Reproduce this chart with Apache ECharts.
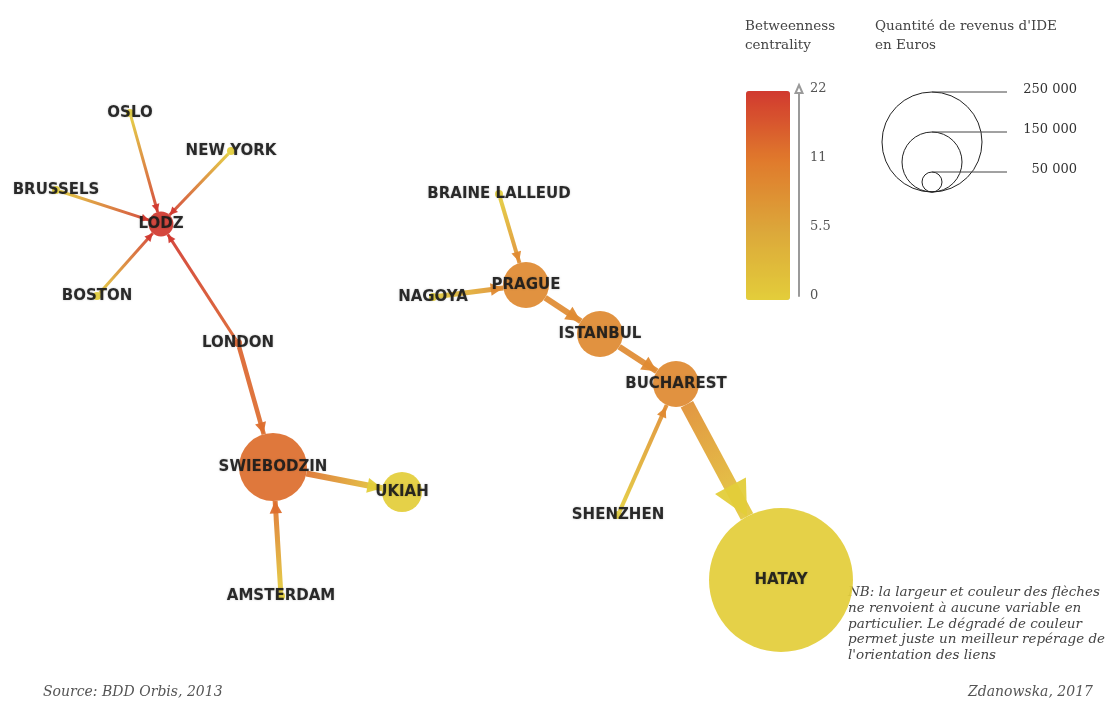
<!DOCTYPE html>
<html>
<head>
<meta charset="utf-8">
<script src="https://cdn.jsdelivr.net/npm/echarts@6/dist/echarts.min.js"></script>
<style>
html,body{margin:0;padding:0;background:#fff;}
#chart{width:1110px;height:702px;}
</style>
</head>
<body>
<div id="chart"></div>
<script>
// ---------- DATA ----------
const nodeNames = ['OSLO','NEW YORK','BRUSSELS','BOSTON','LODZ','LONDON','SWIEBODZIN','UKIAH','AMSTERDAM',
  'BRAINE LALLEUD','NAGOYA','PRAGUE','ISTANBUL','BUCHAREST','SHENZHEN','HATAY'];
// network layout coordinates (layout units)
const nodeLayoutX = [130,231,56,97,161,238,273,402,281,499,433,526,600,676,618,781];
const nodeLayoutY = [113,151,190,296,224,343,467,492,596,194,297,285,334,384,515,580];
// FDI revenue in euros
const nodeRevenue = [0,0,0,0,62000,0,170000,100000,0,0,0,115000,115000,115000,0,360000];
// betweenness centrality
const nodeBetweenness = [0,0,0,0,22,15,13,0,0,0,0,9,9,9,0,0];

const linkSource = ['OSLO','NEW YORK','BRUSSELS','BOSTON','LONDON','LONDON','AMSTERDAM','SWIEBODZIN',
  'BRAINE LALLEUD','NAGOYA','PRAGUE','ISTANBUL','SHENZHEN','BUCHAREST'];
const linkTarget = ['LODZ','LODZ','LODZ','LODZ','LODZ','SWIEBODZIN','SWIEBODZIN','UKIAH',
  'PRAGUE','PRAGUE','ISTANBUL','BUCHAREST','BUCHAREST','HATAY'];

const colourTicks = [0, 5.5, 11, 22];
const colourTickLabels = ['0', '5.5', '11', '22'];
const sizeLegendValues = [250000, 150000, 50000];
const sizeLegendLabels = ['250 000', '150 000', '50 000'];

// ---------- STYLE ----------
const colourRamp = ['#e3cd3a', '#dca73a', '#e07a2c', '#d1392f'];
const edgeWidths = [3,3,3,3,3,4.5,5,6,4,5,6,6,4,14]; // arrow widths carry no variable
const serifFont = 'DejaVu Serif';
const sansFont = 'DejaVu Sans';

function rampPos(b) {
  for (let i = 0; i < colourTicks.length - 1; i++) {
    if (b <= colourTicks[i + 1]) return i + (b - colourTicks[i]) / (colourTicks[i + 1] - colourTicks[i]);
  }
  return colourTicks.length - 1;
}
function colourOf(b) { return echarts.color.lerp(rampPos(b) / (colourTicks.length - 1), colourRamp); }
function diameter(v) { return Math.max(8, v / 2500); }
function arrowSize(w) { return Math.max(8, w * 2.5); }

const idx = {};
nodeNames.forEach((n, i) => idx[n] = i);
const nodeColour = nodeBetweenness.map(colourOf);

// largest incoming arrow per node
const incomingArrow = nodeNames.map(() => 0);
linkTarget.forEach((t, i) => { incomingArrow[idx[t]] = Math.max(incomingArrow[idx[t]], arrowSize(edgeWidths[i])); });

function nodeList(extra, style) {
  return nodeNames.map((n, i) => ({
    name: n,
    value: [nodeLayoutX[i], nodeLayoutY[i]],
    symbolSize: diameter(nodeRevenue[i]) + (extra ? incomingArrow[i] : 0),
    itemStyle: style ? style(i) : { opacity: 0 }
  }));
}

// gradient lines (clipped at node rims through tiny end symbols)
const linksLine = linkSource.map((s, i) => {
  const a = idx[s], b = idx[linkTarget[i]];
  const x0 = nodeLayoutX[a] <= nodeLayoutX[b] ? 0 : 1;
  const y0 = nodeLayoutY[a] <= nodeLayoutY[b] ? 0 : 1;
  return {
    source: s, target: linkTarget[i],
    symbol: ['circle', 'circle'], symbolSize: [0.01, 0.01],
    lineStyle: {
      width: edgeWidths[i], opacity: 0.92, curveness: 0,
      color: new echarts.graphic.LinearGradient(x0, y0, 1 - x0, 1 - y0, [
        { offset: 0, color: nodeColour[a] },
        { offset: 1, color: nodeColour[b] }
      ])
    }
  };
});
// arrow heads, tip on the target rim
const linksArrow = linkSource.map((s, i) => ({
  source: s, target: linkTarget[i],
  symbol: ['none', 'triangle'],
  symbolSize: [1, arrowSize(edgeWidths[i])],
  lineStyle: { width: 0, color: nodeColour[idx[linkTarget[i]]], opacity: 0.95 }
}));

// ---------- LEGEND GRAPHICS ----------
const graphics = [];
const circCx = 932, circBottom = 192;
sizeLegendValues.forEach((v, i) => {
  const r = diameter(v) / 2;
  graphics.push({ type: 'circle', shape: { cx: circCx, cy: circBottom - r, r: r },
    style: { fill: 'none', stroke: '#222', lineWidth: 1 }, silent: true });
  graphics.push({ type: 'line', shape: { x1: circCx, y1: circBottom - 2 * r, x2: 1007, y2: circBottom - 2 * r },
    style: { stroke: '#444', lineWidth: 1 }, silent: true });
  graphics.push({ type: 'text', x: 1077, y: circBottom - 2 * r - 2,
    style: { text: sizeLegendLabels[i], textAlign: 'right', textVerticalAlign: 'middle',
      font: '13px "' + serifFont + '"', fill: '#333' }, silent: true });
});
graphics.push({ type: 'text', x: 745, y: 17,
  style: { text: 'Betweenness\ncentrality', font: '13.5px "' + serifFont + '"', lineHeight: 19, fill: '#444', textVerticalAlign: 'top' } });
graphics.push({ type: 'text', x: 875, y: 17,
  style: { text: "Quantité de revenus d'IDE\nen Euros", font: '13.5px "' + serifFont + '"', lineHeight: 19, fill: '#444', textVerticalAlign: 'top' } });
graphics.push({ type: 'text', x: 848, y: 585,
  style: { text: "NB: la largeur et couleur des flèches\nne renvoient à aucune variable en\nparticulier. Le dégradé de couleur\npermet juste un meilleur repérage de\nl'orientation des liens",
    font: 'italic 13.5px "' + serifFont + '"', lineHeight: 15.7, fill: '#444', textVerticalAlign: 'top' } });
graphics.push({ type: 'text', x: 43, y: 692,
  style: { text: 'Source: BDD Orbis, 2013', font: 'italic 14px "' + serifFont + '"', fill: '#555', textVerticalAlign: 'middle' } });
graphics.push({ type: 'text', x: 1093, y: 692,
  style: { text: 'Zdanowska, 2017', font: 'italic 14px "' + serifFont + '"', fill: '#555', textAlign: 'right', textVerticalAlign: 'middle' } });

const chart = echarts.init(document.getElementById('chart'));
const graphBase = { type: 'graph', coordinateSystem: 'cartesian2d', xAxisIndex: 0, yAxisIndex: 0,
  layout: 'none', silent: true, emphasis: { disabled: true } };
chart.setOption({
  backgroundColor: '#ffffff',
  animation: false,
  grid: [
    { left: 0, top: 0, right: 0, bottom: 0, outerBoundsMode: 'none' },
    { left: 799, top: 89, width: 1, height: 207, outerBoundsMode: 'none' }
  ],
  xAxis: [
    { type: 'value', min: 0, max: 1110, show: false, gridIndex: 0 },
    { type: 'value', min: 0, max: 1, show: false, gridIndex: 1 }
  ],
  yAxis: [
    { type: 'value', min: 0, max: 702, inverse: true, show: false, gridIndex: 0 },
    { type: 'value', gridIndex: 1, min: 0, max: colourTicks.length - 1, interval: 1, position: 'left',
      axisLine: { show: true, symbol: ['none', 'emptyTriangle'], symbolSize: [7, 8], lineStyle: { color: '#9a9a9a', width: 2 } },
      axisTick: { show: false }, splitLine: { show: false },
      axisLabel: { inside: true, margin: 11, color: '#555', fontFamily: serifFont, fontSize: 13,
        formatter: v => colourTickLabels[Math.round(v)] } }
  ],
  visualMap: {
    type: 'continuous', seriesIndex: 3, min: 0, max: colourTicks.length - 1,
    left: 746, top: 91, itemWidth: 44, itemHeight: 209, padding: 0,
    calculable: false, hoverLink: false, inRange: { color: colourRamp },
    textStyle: { color: 'transparent' }
  },
  graphic: graphics,
  series: [
    Object.assign({}, graphBase, { z: 1, data: nodeList(false), links: linksLine, label: { show: false } }),
    Object.assign({}, graphBase, { z: 2, data: nodeList(true), links: linksArrow, label: { show: false } }),
    Object.assign({}, graphBase, { z: 3, links: [],
      data: nodeList(false, i => ({ color: nodeColour[i], opacity: 0.93 })),
      label: { show: true, position: 'inside', color: '#1c1c1c', fontFamily: sansFont, fontWeight: 'bold', fontSize: 15,
        textShadowColor: 'rgba(0,0,0,0.25)', textShadowBlur: 2 } }),
    { type: 'scatter', xAxisIndex: 1, yAxisIndex: 1, data: [] }
  ]
});
</script>
</body>
</html>
